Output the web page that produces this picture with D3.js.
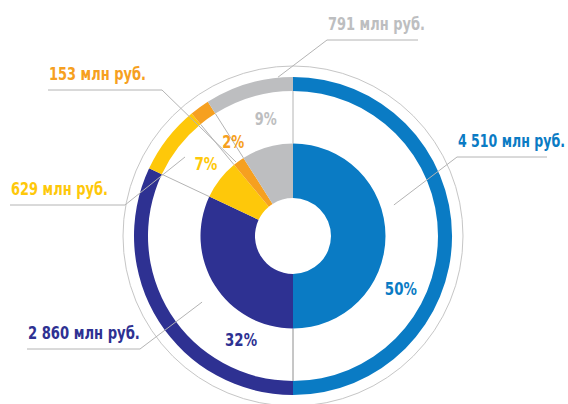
<!DOCTYPE html>
<html>
<head>
<meta charset="utf-8">
<script src="https://cdn.jsdelivr.net/npm/d3@7"></script>
<style>
  html, body { margin: 0; padding: 0; background: #fff; }
  svg { display: block; }
  text { font-family: "DejaVu Sans", "Roboto", sans-serif; font-stretch: condensed; font-weight: bold; }
</style>
</head>
<body>
<svg id="chart" width="568" height="404"></svg>
<script>
// ---- data ----
const categories = ["blue", "navy", "yellow", "orange", "gray"];
const values = [4510, 2860, 629, 153, 791];           // млн руб.
const percents = [50, 32, 7, 2, 9];                   // shares as printed
const valueLabels = ["4 510 млн руб.", "2 860 млн руб.", "629 млн руб.", "153 млн руб.", "791 млн руб."];
const percentLabels = percents.map(p => p + "%");
const colors = ["#0a7bc4", "#2e3192", "#fec80a", "#f6a020", "#bdbec0"];

// ---- layout (annotation placement, relative to chart centre) ----
const cx = 293, cy = 236;
const rHole = 38, rInner = 92.5, rRingIn = 145, rRingOut = 159, rOuterCircle = 170;
// percent label: angle (deg clockwise from 12 o'clock), radius, text width
const pctPos = [[116, 120, 32], [206.6, 116, 32], [309.6, 113, 23], [327.7, 112, 22], [347, 121, 22]];
// leader: anchor angle/radius, elbow (dx,dy), end (dx,dy), text width
const leaders = [
  { a: 72.9, r: 105.6, elbow: [164, -79], end: [254, -79], w: 107 },
  { a: 234, r: 112.4, elbow: [-153, 113], end: [-266, 113], w: 112 },
  { a: 306.2, r: 133.8, elbow: [-168, -31], end: [-283, -31], w: 97 },
  { a: 322.4, r: 93.4, elbow: [-131, -146], end: [-245, -146], w: 97 },
  { a: 354.6, r: 159.5, elbow: [34, -196], end: [125, -196], w: 97 }
];

const svg = d3.select("#chart");
const g = svg.append("g").attr("transform", `translate(${cx},${cy})`);

const total = d3.sum(percents);
const angle = d3.scaleLinear().domain([0, total]).range([0, 2 * Math.PI]);
const pie = d3.pie().sort(null).value(d => d)
  .startAngle(angle(0)).endAngle(angle(total));
const arcsData = pie(percents);

const polar = (deg, r) => {
  const t = deg * Math.PI / 180;
  return [r * Math.sin(t), -r * Math.cos(t)];
};

// places a text with its left edge at (x, y-baseline) squeezed horizontally to width w
function fitText(txt, x, y, w, color) {
  const t = g.append("text")
    .attr("x", 0).attr("y", 0)
    .attr("font-size", 18)
    .attr("fill", color)
    .text(txt);
  const natural = t.node().getComputedTextLength() || w;
  const sx = w / natural;
  t.attr("transform", `translate(${x},${y}) scale(${sx},1)`);
  return t;
}

// thin outer circle
g.append("circle").attr("r", rOuterCircle)
  .attr("fill", "none").attr("stroke", "#c6c6c6").attr("stroke-width", 1);

// radial separators between inner donut and outer ring
const seps = arcsData.map(d => d.startAngle).concat([Math.PI]);
seps.forEach(t => {
  g.append("line")
    .attr("x1", rInner * Math.sin(t)).attr("y1", -rInner * Math.cos(t))
    .attr("x2", rRingIn * Math.sin(t)).attr("y2", -rRingIn * Math.cos(t))
    .attr("stroke", "#b4b4b4").attr("stroke-width", 1);
});

// outer ring
const ringArc = d3.arc().innerRadius(rRingIn).outerRadius(rRingOut);
g.selectAll("path.ring").data(arcsData).join("path")
  .attr("class", "ring")
  .attr("d", ringArc)
  .attr("fill", (d, i) => colors[i]);

// inner donut
const innerArc = d3.arc().innerRadius(rHole).outerRadius(rInner);
g.selectAll("path.inner").data(arcsData).join("path")
  .attr("class", "inner")
  .attr("d", innerArc)
  .attr("fill", (d, i) => colors[i]);

// leader lines + value labels
leaders.forEach((L, i) => {
  const p0 = polar(L.a, L.r);
  g.append("polyline")
    .attr("points", [p0, L.elbow, L.end].map(p => p.join(",")).join(" "))
    .attr("fill", "none").attr("stroke", "#b4b4b4").attr("stroke-width", 1);
  const xLeft = Math.min(L.elbow[0], L.end[0]);
  fitText(valueLabels[i], xLeft + 1, L.elbow[1] - 10, L.w, colors[i]);
});

// percent labels
pctPos.forEach((p, i) => {
  const [x, y] = polar(p[0], p[1]);
  fitText(percentLabels[i], x - p[2] / 2, y + 6.5, p[2], colors[i]);
});
</script>
</body>
</html>
